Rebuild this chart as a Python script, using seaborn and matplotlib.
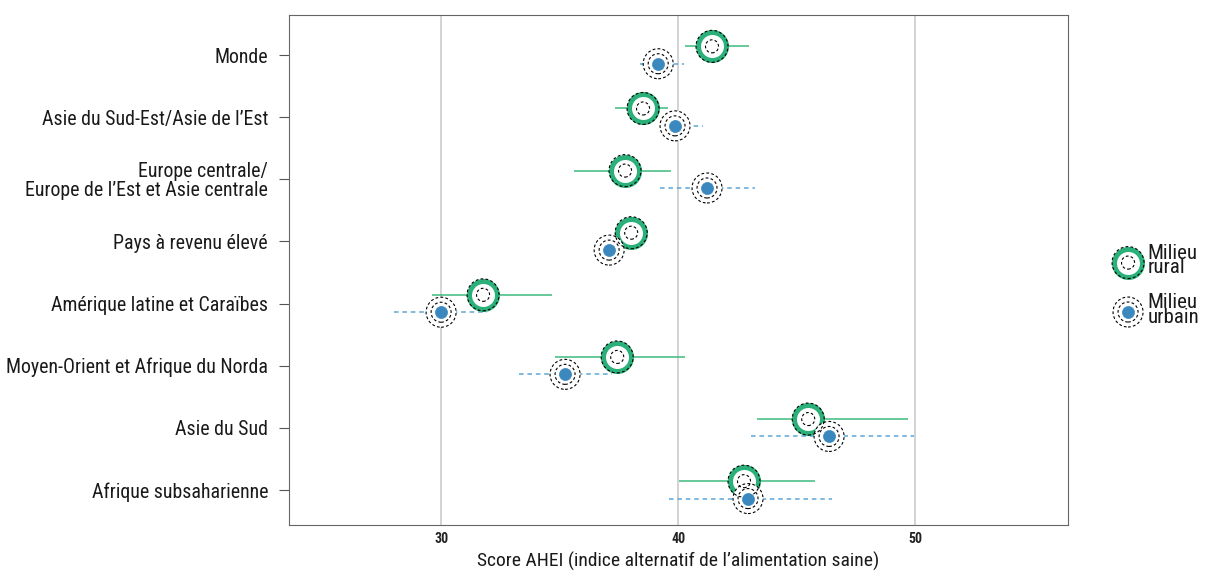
import matplotlib
matplotlib.use("Agg")
import matplotlib.pyplot as plt
from matplotlib import font_manager
from matplotlib.legend_handler import HandlerTuple
import numpy as np
import pandas as pd
import seaborn as sns

# Regions, top to bottom
regions = [
    "Monde",
    "Asie du Sud-Est/Asie de l’Est",
    "Europe centrale/\nEurope de l’Est et Asie centrale",
    "Pays à revenu élevé",
    "Amérique latine et Caraïbes",
    "Moyen-Orient et Afrique du Norda",
    "Asie du Sud",
    "Afrique subsaharienne",
]

# AHEI score, rural population (mean and 95% interval)
rural_mean = [41.43, 38.52, 37.76, 38.02, 31.77, 37.43, 45.49, 42.78]
rural_low = [40.30, 37.34, 35.60, 37.60, 29.62, 34.81, 43.33, 40.04]
rural_high = [43.00, 39.58, 39.70, 38.45, 34.68, 40.30, 49.70, 45.78]

# AHEI score, urban population (mean and 95% interval)
urban_mean = [39.16, 39.87, 41.22, 37.09, 30.00, 35.23, 46.37, 42.95]
urban_low = [38.40, 39.24, 39.24, 36.70, 28.02, 33.29, 43.08, 39.62]
urban_high = [40.25, 41.05, 43.25, 37.50, 31.94, 37.22, 49.96, 46.50]

x_ticks = [30, 40, 50]
x_label = "Score AHEI (indice alternatif de l’alimentation saine)"
legend_labels = ["Milieu\nrural", "Milieu\nurbain"]

GREEN = "#2bb07a"
GREEN_LINE = "#3dba7f"
BLUE = "#3a88bd"
BLUE_LINE = "#5ea6d6"
DASH = (0, (2.5, 2))

sns.set_theme(style="white")

# pick a condensed face if one is installed
names = {f.name for f in font_manager.fontManager.ttflist}
family = "DejaVu Sans"
stretch = "normal"
for cand in ["Roboto Condensed", "Liberation Sans Narrow", "Open Sans Condensed"]:
    if cand in names:
        family = cand
        break
else:
    stretch = "condensed"
plt.rcParams["font.family"] = [family, "DejaVu Sans"]
plt.rcParams["font.stretch"] = stretch

offset = 0.14
pos = np.arange(len(regions))
df = pd.DataFrame({
    "region": regions * 2,
    "milieu": ["rural"] * len(regions) + ["urbain"] * len(regions),
    "score": rural_mean + urban_mean,
    "low": rural_low + urban_low,
    "high": rural_high + urban_high,
    "y": list(pos - offset) + list(pos + offset),
})
rur = df[df.milieu == "rural"]
urb = df[df.milieu == "urbain"]

# marker layers: (size, face, edge, width, dashed)
rural_layers = [
    (407, "white", GREEN, 3.6, False),
    (530, "none", "black", 0.8, True),
    (88, "none", "black", 0.8, True),
]
urban_layers = [
    (466, "white", "black", 0.8, True),
    (207, "none", "black", 0.8, True),
    (75, BLUE, BLUE, 0.5, False),
]

fig = plt.figure(figsize=(12.11, 5.74), dpi=100)
ax = fig.add_axes([0.2386, 0.0854, 0.6433, 0.8885])

# interval lines
ax.hlines(rur["y"], rur["low"], rur["high"], color=GREEN_LINE, lw=1.1, zorder=2)
ax.hlines(urb["y"], urb["low"], urb["high"], color=BLUE_LINE, lw=1.1,
          linestyles=(0, (3, 2.5)), zorder=2)


def draw_layers(data, layers):
    for i, (s, fc, ec, lw, dashed) in enumerate(layers):
        sns.scatterplot(data=data, x="score", y="y", ax=ax, s=s, marker="o",
                        facecolor=fc, edgecolor=ec, linewidth=lw,
                        linestyle=DASH if dashed else "solid",
                        zorder=3 + i, legend=False)


draw_layers(rur, rural_layers)
draw_layers(urb, urban_layers)


def proxy(layers):
    return tuple(
        ax.scatter([], [], s=s, marker="o", facecolor=fc, edgecolor=ec,
                   linewidth=lw, linestyle=DASH if dashed else "solid")
        for (s, fc, ec, lw, dashed) in layers
    )


h_rural = proxy(rural_layers)
h_urban = proxy(urban_layers)

ax.set_xlim(23.58, 56.45)
ax.set_ylim(len(regions) - 1 + 0.565, -0.645)
ax.set_xticks(x_ticks)
ax.set_xticklabels([str(t) for t in x_ticks], fontsize=10, fontweight="bold",
                   color="#222222")
ax.set_yticks(pos)
ax.set_yticklabels(regions, fontsize=14.3, linespacing=1.0, color="#1a1a1a")
ax.tick_params(axis="y", which="major", left=True, length=7, width=0.8,
               color="#555555", pad=8)
ax.tick_params(axis="x", length=0, pad=5)
ax.set_xlabel(x_label, fontsize=14, labelpad=4, color="#1a1a1a")
ax.set_ylabel("")
ax.grid(False)
for t in x_ticks:
    ax.axvline(t, color="#c8c8c8", lw=1.1, zorder=1)
for sp in ax.spines.values():
    sp.set_color("#666666")
    sp.set_linewidth(0.8)

leg = ax.legend([h_rural, h_urban], legend_labels,
                handler_map={tuple: HandlerTuple(ndivide=1)},
                loc="center left", bbox_to_anchor=(1.045, 0.47), frameon=False,
                fontsize=15, handlelength=1.4, handletextpad=0.25,
                labelspacing=0.75, borderpad=0, scatterpoints=1)
for t in leg.get_texts():
    t.set_linespacing(0.72)
    t.set_color("#1a1a1a")

fig.savefig("out.png", dpi=100)
